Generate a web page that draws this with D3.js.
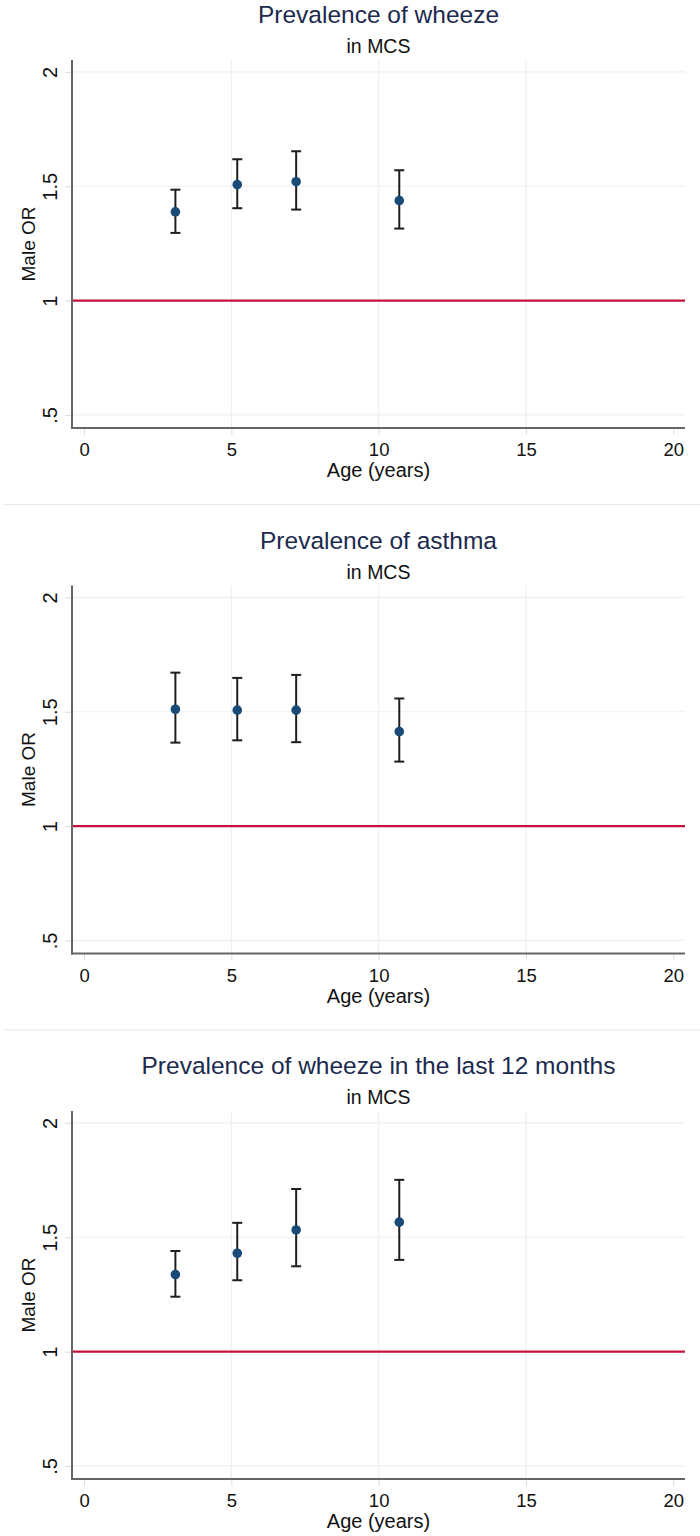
<!DOCTYPE html>
<html>
<head>
<meta charset="utf-8">
<script src="https://cdn.jsdelivr.net/npm/d3@7"></script>
<style>
  body { margin: 0; background: #fff; }
  svg { display: block; }
  text { font-family: "Liberation Sans", Arial, sans-serif; }
</style>
</head>
<body>
<div id="chart"></div>
<script>
/**
 * DATA
 * */
const titles = ["Prevalence of wheeze", "Prevalence of asthma", "Prevalence of wheeze in the last 12 months"];
const subtitle = "in MCS";
const ages = [3.1, 5.2, 7.2, 10.7];

const wheezeOR = [1.388, 1.507, 1.520, 1.437];
const wheezeLo = [1.296, 1.404, 1.398, 1.315];
const wheezeHi = [1.485, 1.618, 1.653, 1.570];

const asthmaOR = [1.511, 1.507, 1.507, 1.413];
const asthmaLo = [1.365, 1.375, 1.367, 1.282];
const asthmaHi = [1.671, 1.648, 1.661, 1.558];

const wheeze12OR = [1.337, 1.430, 1.532, 1.566];
const wheeze12Lo = [1.240, 1.312, 1.373, 1.401];
const wheeze12Hi = [1.440, 1.563, 1.711, 1.751];

const xTicks = [0, 5, 10, 15, 20];
const xGrid = [5, 10, 15];
const yTicks = [0.5, 1, 1.5, 2];
const yTickLabels = [".5", "1", "1.5", "2"];
const refLine = 1;

/**
 * CONSTANTS
 * */
const width = 700, height = 1536,
  panelH = 525.5,
  plot = { left: 72, right: 685, top: 60, bottom: 428 };

const panels = [
  { title: titles[0], or: wheezeOR, lo: wheezeLo, hi: wheezeHi },
  { title: titles[1], or: asthmaOR, lo: asthmaLo, hi: asthmaHi },
  { title: titles[2], or: wheeze12OR, lo: wheeze12Lo, hi: wheeze12Hi },
];

const svg = d3.select("#chart").append("svg")
  .attr("width", width)
  .attr("height", height);

// scales (shared by every panel)
const x = d3.scaleLinear().domain([-0.41, 20.4]).range([plot.left, plot.right]);
const y = d3.scaleLinear().domain([0.443, 2.052]).range([plot.bottom, plot.top]);

panels.forEach((p, i) => {
  const g = svg.append("g").attr("transform", `translate(0,${i * panelH})`);

  // separator between graphs
  if (i < panels.length - 1) {
    g.append("line")
      .attr("x1", 3).attr("x2", width)
      .attr("y1", 504.5).attr("y2", 504.5)
      .attr("stroke", "#e6eaea").attr("stroke-width", 1.2);
  }

  // titles
  const cx = (plot.left + plot.right) / 2;
  g.append("text")
    .attr("x", cx).attr("y", 23)
    .attr("text-anchor", "middle")
    .attr("font-size", 24.5)
    .attr("fill", "#1c2a4e")
    .text(p.title);
  g.append("text")
    .attr("x", cx).attr("y", 53)
    .attr("text-anchor", "middle")
    .attr("font-size", 19.5)
    .attr("fill", "#111")
    .text(subtitle);

  // grid
  g.selectAll("line.hgrid").data(yTicks).join("line")
    .attr("class", "hgrid")
    .attr("x1", plot.left).attr("x2", plot.right)
    .attr("y1", d => y(d)).attr("y2", d => y(d))
    .attr("stroke", "#efefef").attr("stroke-width", 1.2);
  g.selectAll("line.vgrid").data(xGrid).join("line")
    .attr("class", "vgrid")
    .attr("x1", d => x(d)).attr("x2", d => x(d))
    .attr("y1", plot.top).attr("y2", plot.bottom)
    .attr("stroke", "#efefef").attr("stroke-width", 1.2);

  // axes
  const yAxis = d3.axisLeft(y).tickValues(yTicks)
    .tickFormat((d, k) => yTickLabels[k]).tickSize(7).tickPadding(0);
  const ya = g.append("g").attr("transform", `translate(${plot.left},0)`).call(yAxis);
  ya.select(".domain").remove();
  ya.selectAll(".tick line").attr("stroke", "#dcdcdc");
  ya.selectAll(".tick text")
    .attr("font-size", 20).attr("fill", "#111")
    .attr("x", 0).attr("dy", 0)
    .attr("text-anchor", "middle")
    .attr("transform", "translate(-15,0) rotate(-90)");

  const xAxis = d3.axisBottom(x).tickValues(xTicks).tickSize(7).tickPadding(8);
  const xa = g.append("g").attr("transform", `translate(0,${plot.bottom})`).call(xAxis);
  xa.select(".domain").remove();
  xa.selectAll(".tick line").attr("stroke", "#dcdcdc");
  xa.selectAll(".tick text").attr("font-size", 18.5).attr("fill", "#111");

  g.append("line")
    .attr("x1", plot.left).attr("x2", plot.left)
    .attr("y1", plot.top).attr("y2", plot.bottom + 1)
    .attr("stroke", "#666").attr("stroke-width", 2);
  g.append("line")
    .attr("x1", plot.left - 1).attr("x2", plot.right)
    .attr("y1", plot.bottom).attr("y2", plot.bottom)
    .attr("stroke", "#666").attr("stroke-width", 2);

  // axis titles
  g.append("text")
    .attr("transform", `translate(35,${(plot.top + plot.bottom) / 2}) rotate(-90)`)
    .attr("text-anchor", "middle")
    .attr("font-size", 19).attr("fill", "#111")
    .text("Male OR");
  g.append("text")
    .attr("x", cx).attr("y", 477)
    .attr("text-anchor", "middle")
    .attr("font-size", 20).attr("fill", "#111")
    .text("Age (years)");

  // reference line
  g.append("line")
    .attr("x1", plot.left + 1).attr("x2", plot.right)
    .attr("y1", y(refLine)).attr("y2", y(refLine))
    .attr("stroke", "#c3133b").attr("stroke-width", 2.2);

  // error bars
  const rows = ages.map((a, k) => ({ age: a, or: p.or[k], lo: p.lo[k], hi: p.hi[k] }));
  const bars = g.selectAll("g.ci").data(rows).join("g").attr("class", "ci")
    .attr("stroke", "#1e1e1e").attr("stroke-width", 2);
  bars.append("line")
    .attr("x1", d => x(d.age)).attr("x2", d => x(d.age))
    .attr("y1", d => y(d.lo)).attr("y2", d => y(d.hi));
  bars.append("line")
    .attr("x1", d => x(d.age) - 5).attr("x2", d => x(d.age) + 5)
    .attr("y1", d => y(d.hi)).attr("y2", d => y(d.hi));
  bars.append("line")
    .attr("x1", d => x(d.age) - 5).attr("x2", d => x(d.age) + 5)
    .attr("y1", d => y(d.lo)).attr("y2", d => y(d.lo));

  // points
  g.selectAll("circle.pt").data(rows).join("circle")
    .attr("class", "pt")
    .attr("cx", d => x(d.age)).attr("cy", d => y(d.or))
    .attr("r", 4.8)
    .attr("fill", "#1a4a78");
});
</script>
</body>
</html>
